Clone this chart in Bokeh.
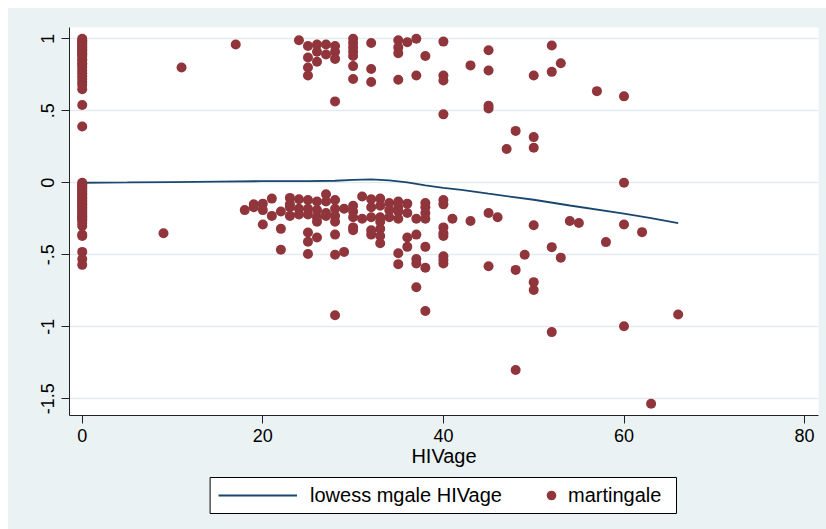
from bokeh.plotting import figure
from bokeh.layouts import column
from bokeh.models import (Range1d, FixedTicker, Legend, LegendItem,
                          BoxAnnotation, ColumnDataSource)
from bokeh.embed import file_html
from bokeh.resources import INLINE

# Martingale residuals grouped by age at HIV diagnosis
ages = [0, 9, 11, 17, 18, 19, 20, 21, 22, 23, 24, 25, 26, 27, 28, 29, 30,
        31, 32, 33, 34, 35, 36, 37, 38, 40, 41, 43, 45, 46, 47, 48, 49, 50,
        52, 53, 54, 55, 57, 58, 60, 62, 63, 66]
mgale = [
    [1.0, 0.99, 0.98, 0.97, 0.96, 0.95, 0.94, 0.93, 0.92, 0.91, 0.90, 0.89,
     0.88, 0.86, 0.85, 0.83, 0.82, 0.80, 0.78, 0.76, 0.74, 0.72, 0.70, 0.68,
     0.65, 0.54, 0.39, 0.0, -0.01, -0.02, -0.03, -0.04, -0.05, -0.06, -0.07,
     -0.08, -0.09, -0.10, -0.11, -0.12, -0.13, -0.14, -0.15, -0.16, -0.17,
     -0.18, -0.19, -0.20, -0.21, -0.22, -0.23, -0.24, -0.25, -0.26, -0.28,
     -0.30, -0.36, -0.37, -0.48, -0.53, -0.57],
    [-0.35],
    [0.80],
    [0.96],
    [-0.19],
    [-0.15, -0.17],
    [-0.145, -0.19, -0.29],
    [-0.11, -0.23],
    [-0.20, -0.32, -0.465],
    [-0.105, -0.15, -0.17, -0.23],
    [0.99, -0.115, -0.18, -0.22],
    [0.95, 0.87, 0.80, 0.745, -0.12, -0.18, -0.22, -0.345, -0.41, -0.495],
    [0.96, 0.91, 0.84, -0.13, -0.19, -0.24, -0.27, -0.38],
    [0.96, 0.89, -0.08, -0.13, -0.21, -0.23],
    [0.95, 0.91, 0.86, 0.565, -0.12, -0.18, -0.23, -0.27, -0.36, -0.50, -0.92],
    [-0.18, -0.48],
    [1.0, 0.97, 0.94, 0.91, 0.88, 0.81, 0.72, -0.16, -0.20, -0.24, -0.31, -0.33],
    [-0.095, -0.25],
    [0.97, 0.79, 0.70, -0.115, -0.17, -0.24, -0.33, -0.36],
    [-0.11, -0.16, -0.24, -0.27, -0.32, -0.37, -0.42],
    [-0.14, -0.19, -0.24],
    [0.99, 0.94, 0.90, 0.715, -0.13, -0.17, -0.20, -0.25, -0.49, -0.565],
    [0.975, -0.145, -0.21, -0.38, -0.445],
    [1.0, 0.745, -0.25, -0.36, -0.53, -0.56, -0.725],
    [0.88, -0.14, -0.17, -0.21, -0.25, -0.445, -0.59, -0.89],
    [0.98, 0.745, 0.71, 0.475, -0.12, -0.15, -0.31, -0.35, -0.37, -0.51,
     -0.535, -0.56],
    [-0.25],
    [0.815, -0.265],
    [0.92, 0.78, 0.535, 0.515, -0.21, -0.58],
    [-0.24],
    [0.235],
    [0.36, -0.605, -1.30],
    [-0.50],
    [0.745, 0.317, 0.243, -0.295, -0.69, -0.745],
    [0.953, 0.77, -0.447, -1.037],
    [0.83, -0.52],
    [-0.266],
    [-0.28],
    [0.636],
    [-0.412],
    [0.60, 0.0, -0.29, -0.996],
    [-0.343],
    [-1.535],
    [-0.915],
]

# Lowess smooth of the residuals against age
lowess_age = [0, 5, 10, 15, 20, 25, 28, 30, 32, 34, 36, 38, 40, 42, 45, 50,
              54, 60, 63, 66]
lowess_fit = [0.0, 0.002, 0.005, 0.008, 0.011, 0.012, 0.014, 0.02, 0.024,
              0.016, 0.002, -0.018, -0.035, -0.05, -0.076, -0.118, -0.158,
              -0.215, -0.245, -0.28]

x_ticks = [0, 20, 40, 60, 80]
y_ticks = [-1.5, -1, -0.5, 0, 0.5, 1]
y_tick_labels = ["-1.5", "-1", "-.5", "0", ".5", "1"]

NAVY = "#1A476F"
MAROON = "#90353B"
BG = "#EAF2F3"
FONT = "Liberation Sans"

pts = ColumnDataSource(dict(
    x=[a for a, vals in zip(ages, mgale) for _ in vals],
    y=[v for vals in mgale for v in vals],
))
smooth = ColumnDataSource(dict(x=lowess_age, y=lowess_fit))

# Main scatter panel
p = figure(width=818, height=467,
           x_range=Range1d(-1.41, 81.54), y_range=Range1d(-1.616, 1.078),
           output_backend="svg", toolbar_location=None,
           min_border_left=61, min_border_right=8,
           min_border_top=19, min_border_bottom=60)
p.background_fill_color = "white"
p.border_fill_color = BG
p.outline_line_color = None

p.line("x", "y", source=smooth, line_color=NAVY, line_width=1.8)
p.scatter("x", "y", source=pts, size=10, fill_color=MAROON, line_color=None)

p.xgrid.visible = False
p.ygrid.grid_line_color = "#E2EBEE"
p.ygrid.grid_line_width = 1.5
p.ygrid.ticker = FixedTicker(ticks=y_ticks)

for ax in (p.xaxis[0], p.yaxis[0]):
    ax.axis_line_color = "#222222"
    ax.major_tick_line_color = "#222222"
    ax.major_tick_out = 8
    ax.major_tick_in = 0
    ax.minor_tick_out = 0
    ax.minor_tick_in = 0
    ax.major_label_text_font = FONT
    ax.major_label_text_color = "black"

p.xaxis.ticker = FixedTicker(ticks=x_ticks)
p.xaxis.major_label_text_font_size = "18px"
p.xaxis.major_label_standoff = 5
p.xaxis.axis_label = "HIVage"
p.xaxis.axis_label_text_font = FONT
p.xaxis.axis_label_text_font_style = "normal"
p.xaxis.axis_label_text_font_size = "20px"
p.xaxis.axis_label_text_color = "black"
p.xaxis.axis_label_standoff = 0

p.yaxis.ticker = FixedTicker(ticks=y_ticks)
p.yaxis.major_label_overrides = dict(zip(y_ticks, y_tick_labels))
p.yaxis.major_label_orientation = "vertical"
p.yaxis.major_label_text_font_size = "18px"
p.yaxis.major_label_standoff = 7

# Key strip beneath the plot. Its frame lines up with the main frame,
# and its ranges are pixel offsets inside that frame.
key = figure(width=818, height=54,
             x_range=Range1d(0, 749), y_range=Range1d(0, 54),
             output_backend="svg", toolbar_location=None,
             x_axis_location=None, y_axis_location=None,
             min_border_left=61, min_border_right=8,
             min_border_top=0, min_border_bottom=0)
key.background_fill_color = None
key.border_fill_color = BG
key.outline_line_color = None
key.xgrid.visible = False
key.ygrid.visible = False

key_line = key.line([float("nan")], [float("nan")], line_color=NAVY,
                    line_width=1.8)
key_dot = key.scatter([float("nan")], [float("nan")], size=10,
                      fill_color=MAROON, line_color=None)

key.add_layout(BoxAnnotation(left=140.6, right=607, bottom=16, top=52,
                             fill_color="white", fill_alpha=1.0,
                             line_color="black", line_width=1,
                             line_alpha=1.0))

common = dict(orientation="horizontal", glyph_height=24, padding=8,
              margin=0, background_fill_alpha=0, border_line_alpha=0,
              label_text_font=FONT, label_text_font_size="20px",
              label_text_color="black")
key.add_layout(Legend(items=[LegendItem(label="lowess mgale HIVage",
                                        renderers=[key_line])],
                      location=(141, 14), glyph_width=79, label_standoff=13,
                      **common))
key.add_layout(Legend(items=[LegendItem(label="martingale",
                                        renderers=[key_dot])],
                      location=(462, 14), glyph_width=24, label_standoff=5,
                      **common))

page = column(p, key, spacing=0, margin=(8, 0, 0, 8),
              styles={"background-color": BG})
open("out.html", "w").write(file_html(page, INLINE))
